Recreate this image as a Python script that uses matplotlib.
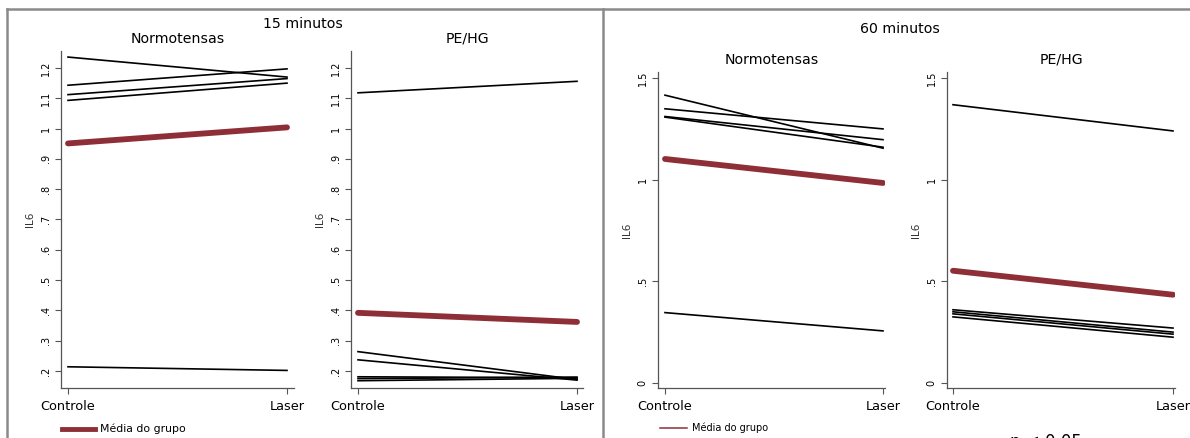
import numpy as np
import matplotlib
matplotlib.use('Agg')
import matplotlib.pyplot as plt
from matplotlib.lines import Line2D

# data (Controle -> Laser), one row per subject
x_labels = ['Controle', 'Laser']

norm15 = [[1.236, 1.170], [1.143, 1.197], [1.112, 1.165], [1.093, 1.150], [0.214, 0.202]]
norm15_mean = [0.951, 1.004]

pe15 = [[1.118, 1.156], [0.264, 0.172], [0.237, 0.170], [0.181, 0.178],
        [0.175, 0.180], [0.168, 0.176]]
pe15_mean = [0.392, 0.362]

norm60 = [[1.416, 1.155], [1.349, 1.250], [1.311, 1.197], [1.308, 1.160], [0.346, 0.256]]
norm60_mean = [1.102, 0.984]

pe60 = [[1.369, 1.240], [0.360, 0.270], [0.350, 0.250], [0.340, 0.240], [0.325, 0.225]]
pe60_mean = [0.552, 0.434]

ticks15 = [0.2, 0.3, 0.4, 0.5, 0.6, 0.7, 0.8, 0.9, 1.0, 1.1, 1.2]
ticklab15 = ['.2', '.3', '.4', '.5', '.6', '.7', '.8', '.9', '1', '1.1', '1.2']
ticks60 = [0, 0.5, 1.0, 1.5]
ticklab60 = ['0', '.5', '1', '1.5']

W, H = 1190, 438
mean_col = '#8e2f37'
axis_col = '#555555'

fig = plt.figure(figsize=(W / 100, H / 100), dpi=100)
fig.patch.set_facecolor('white')


def px_axes(left, right, top, bottom):
    return fig.add_axes([left / W, 1 - bottom / H, (right - left) / W, (bottom - top) / H])


def panel(ax, rows, mean, title, ticks, ticklab, ylim, xpx):
    ax_l, c_px, l_px, ax_r = xpx
    unit = l_px - c_px
    ax.set_xlim(-(c_px - ax_l) / unit, 1 + (ax_r - l_px) / unit)
    ax.set_ylim(*ylim)
    for r in rows:
        ax.plot([0, 1], r, color='black', lw=1.2, zorder=2)
    ax.plot([0, 1], mean, color=mean_col, lw=4.2, solid_capstyle='round', zorder=3)
    ax.set_xticks([0, 1])
    ax.set_xticklabels(x_labels, fontsize=9.3)
    ax.set_yticks(ticks)
    ax.set_yticklabels(ticklab, fontsize=7, rotation=90, va='center', color='#333333')
    ax.set_ylabel('IL6', fontsize=7.5, labelpad=4, color='#333333')
    ax.set_title(title, fontsize=10.2, pad=6)
    for s in ['top', 'right']:
        ax.spines[s].set_visible(False)
    for s in ['left', 'bottom']:
        ax.spines[s].set_color(axis_col)
        ax.spines[s].set_linewidth(0.9)
    ax.tick_params(axis='both', colors=axis_col, length=4, width=0.8, labelcolor='black')
    ax.tick_params(axis='x', pad=5)


ylim15 = (0.144, 1.256)
ylim60 = (-0.025, 1.53)

ax1 = px_axes(61, 294, 51, 388)
panel(ax1, norm15, norm15_mean, 'Normotensas', ticks15, ticklab15, ylim15, (61, 68, 287, 294))
ax2 = px_axes(351, 583, 51, 388)
panel(ax2, pe15, pe15_mean, 'PE/HG', ticks15, ticklab15, ylim15, (351, 358, 577, 583))
ax3 = px_axes(658, 885, 72, 388)
panel(ax3, norm60, norm60_mean, 'Normotensas', ticks60, ticklab60, ylim60, (658, 665, 883, 885))
ax4 = px_axes(947, 1175, 72, 388)
panel(ax4, pe60, pe60_mean, 'PE/HG', ticks60, ticklab60, ylim60, (947, 953, 1173, 1175))

# panel frames
frame_col = '#8a8a8a'
fig.add_artist(Line2D([7 / W, 1], [1 - 9 / H, 1 - 9 / H], color=frame_col, lw=1.8))
fig.add_artist(Line2D([7 / W, 7 / W], [0, 1 - 9 / H], color=frame_col, lw=1.8))
fig.add_artist(Line2D([603 / W, 603 / W], [0, 1 - 9 / H], color=frame_col, lw=1.8))

# group headers
fig.text(303 / W, 1 - 24 / H, '15 minutos', ha='center', va='center', fontsize=10.2)
fig.text(900 / W, 1 - 29 / H, '60 minutos', ha='center', va='center', fontsize=10.2)

# legends
fig.add_artist(Line2D([62 / W, 95 / W], [1 - 429 / H] * 2, color=mean_col, lw=3.5))
fig.text(100 / W, 1 - 429 / H, 'Média do grupo', va='center', fontsize=7.8)
fig.add_artist(Line2D([660 / W, 687 / W], [1 - 428 / H] * 2, color=mean_col, lw=1.1))
fig.text(692 / W, 1 - 428 / H, 'Média do grupo', va='center', fontsize=7)

# note cut off at the bottom edge
fig.text(1010 / W, 1 - 433 / H, 'p < 0,05', va='top', fontsize=12)

fig.savefig('out.png', dpi=100)
